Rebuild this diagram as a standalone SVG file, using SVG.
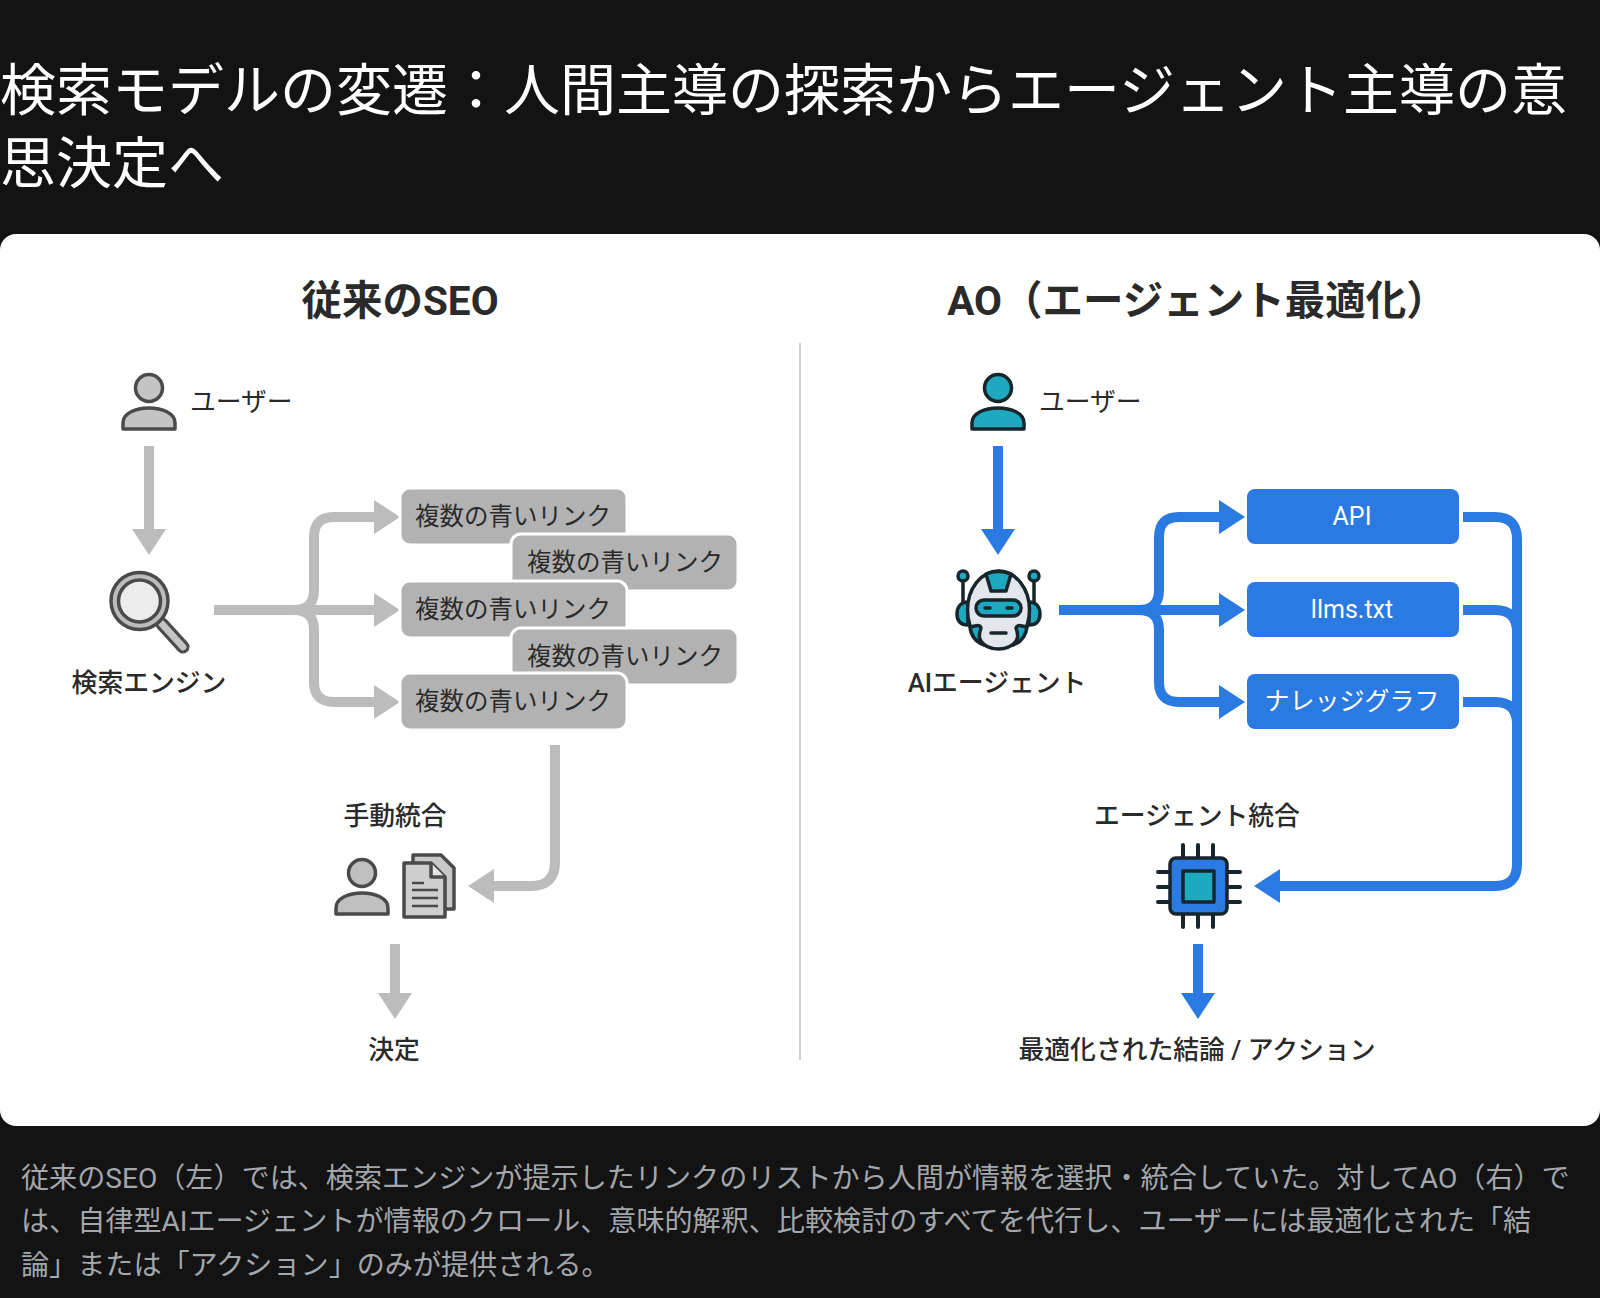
<svg xmlns="http://www.w3.org/2000/svg" width="1600" height="1298" viewBox="0 0 1600 1298">
<style>
text{font-family:Roboto,"Noto Sans CJK JP",sans-serif}
.title{font-size:56px;fill:#fff}
.cap{font-size:28.1px;fill:#a3a7ab}
.h{font-size:40.5px;font-weight:700;fill:#2a2a2a;text-anchor:middle}
.lb{font-size:25.8px;font-weight:500;fill:#2a2a2a;text-anchor:middle}
.lbn{font-size:25.8px;font-weight:400;fill:#2a2a2a}
.g{fill:#b2b2b2;stroke:#fff;stroke-width:3}
.gt{font-size:24.5px;fill:#2a2a2a;text-anchor:middle}
.b{fill:#2a7ae2}
.bt{font-size:25px;fill:#fff;text-anchor:middle}
.cg path{fill:none;stroke:#bcbcbc;stroke-width:10}
.cb path{fill:none;stroke:#2a7ae2;stroke-width:10}
.ic{stroke:#4a4a4a;stroke-width:3.5;stroke-linejoin:round}
.ib{stroke:#17252c;stroke-width:3.5;stroke-linejoin:round;stroke-linecap:round}
.t{fill:#1fa9c0}
</style>
<defs>
<marker id="ag" markerUnits="userSpaceOnUse" markerWidth="28" markerHeight="36" refX="0" refY="17" orient="auto"><path d="M0 0L26 17L0 34Z" fill="#bcbcbc"/></marker>
<marker id="ab" markerUnits="userSpaceOnUse" markerWidth="28" markerHeight="36" refX="0" refY="17" orient="auto"><path d="M0 0L26 17L0 34Z" fill="#2a7ae2"/></marker>
<g id="person"><circle cx="0" cy="-16" r="13.500"/><path d="M-26 25V19C-26 9-13 4 0 4S26 9 26 19V25Z"/></g>
</defs>
<rect width="1600" height="1298" fill="#131314"/>
<text class="title" x="0" y="110">検索モデルの変遷：人間主導の探索からエージェント主導の意</text>
<text class="title" x="0" y="183">思決定へ</text>
<rect id="panel" x="0" y="234" width="1600" height="892" rx="16" fill="#fff"/>
<text class="h" x="400" y="315">従来のSEO</text>
<text class="h" x="1197" y="315">AO（エージェント最適化）</text>
<line x1="800" y1="343" x2="800" y2="1060" stroke="#cfcfcf" stroke-width="2"/>

<g id="connectors">
<g class="cg">
<path d="M149 446V529" marker-end="url(#ag)"/>
<path d="M214 610H294Q314 610 314 590V537Q314 517 334 517H374" marker-end="url(#ag)"/>
<path d="M214 610H374" marker-end="url(#ag)"/>
<path d="M214 610H294Q314 610 314 630V682Q314 702 334 702H374" marker-end="url(#ag)"/>
<path d="M555 745V862Q555 886 531 886H494" marker-end="url(#ag)"/>
<path d="M395 944V993" marker-end="url(#ag)"/>
</g>
<g class="cb">
<path d="M998 446V529" marker-end="url(#ab)"/>
<path d="M1059 610H1139Q1159 610 1159 590V537Q1159 517 1179 517H1219" marker-end="url(#ab)"/>
<path d="M1059 610H1219" marker-end="url(#ab)"/>
<path d="M1059 610H1139Q1159 610 1159 630V682Q1159 702 1179 702H1219" marker-end="url(#ab)"/>
<path d="M1463 517H1495Q1517 517 1517 539V864Q1517 886 1495 886H1280" marker-end="url(#ab)"/>
<path d="M1463 610H1495Q1517 610 1517 632"/>
<path d="M1463 702H1495Q1517 702 1517 724"/>
<path d="M1198 944V993" marker-end="url(#ab)"/>
</g>
</g>

<g id="seo-user"><use href="#person" transform="translate(149,404)" fill="#c4c4c4" class="ic"/><text class="lbn" x="190" y="411">ユーザー</text></g>
<g id="seo-engine">
<line x1="162" y1="624" x2="183" y2="647" stroke="#4a4a4a" stroke-width="13" stroke-linecap="round"/>
<line x1="162" y1="624" x2="183" y2="647" stroke="#c4c4c4" stroke-width="7" stroke-linecap="round"/>
<circle cx="139.500" cy="601" r="28.500" fill="#bcbcbc" class="ic"/>
<circle cx="139.500" cy="601" r="21" fill="#ececec" class="ic"/>
<text class="lb" x="149" y="692">検索エンジン</text>
</g>
<g id="link-1"><rect class="g" x="400" y="488" width="227" height="57" rx="10"/><text class="gt" x="513" y="525">複数の青いリンク</text></g>
<g id="link-2"><rect class="g" x="511" y="534" width="227" height="57" rx="10"/><text class="gt" x="625" y="571">複数の青いリンク</text></g>
<g id="link-3"><rect class="g" x="400" y="581" width="227" height="57" rx="10"/><text class="gt" x="513" y="618">複数の青いリンク</text></g>
<g id="link-4"><rect class="g" x="511" y="628" width="227" height="57" rx="10"/><text class="gt" x="625" y="665">複数の青いリンク</text></g>
<g id="link-5"><rect class="g" x="400" y="673" width="227" height="57" rx="10"/><text class="gt" x="513" y="710">複数の青いリンク</text></g>
<g id="manual">
<text class="lb" x="395" y="825">手動統合</text>
<use href="#person" transform="translate(362,889)" fill="#c0c0c0" class="ic"/>
<path class="ic" fill="#c8c8c8" d="M413 855H441L454 868V909H413Z"/>
<path class="ic" fill="#cfcfcf" d="M404 863H431L445 877V917H404Z"/>
<path class="ic" fill="#e4e4e4" d="M431 863V877H445"/>
<path d="M412 883H424M412 890H438M412 898H438M412 906H438" stroke="#4a4a4a" stroke-width="2.500" fill="none"/>
</g>
<g id="decision"><text class="lb" x="394" y="1059">決定</text></g>

<g id="ao-user"><use href="#person" transform="translate(998,404)" class="ib t" style="fill:#1fa9c0"/><text class="lbn" x="1039" y="411">ユーザー</text></g>
<g id="ai-agent">
<path class="ib" fill="none" d="M963 581V604M1034 581V604"/>
<circle class="ib t" cx="963" cy="576" r="5"/><circle class="ib t" cx="1034" cy="576" r="5"/>
<path class="ib t" d="M968 602C960 602 957 608 957 614C957 620 960 625 968 625ZM1029 602C1037 602 1040 608 1040 614C1040 620 1037 625 1029 625Z"/>
<ellipse class="ib" cx="998.500" cy="610" rx="31" ry="39" fill="#e3e6ea"/>
<path class="ib t" d="M986 574Q998 569 1011 574L1006 591H991Z"/>
<path class="ib t" d="M970 627C976 626 980 624 981 628C978 636 979 640 984 645C976 642 971 636 970 627ZM1027 627C1021 626 1017 624 1016 628C1019 636 1018 640 1013 645C1021 642 1026 636 1027 627Z"/>
<rect class="ib t" x="976" y="600" width="45" height="16" rx="8"/>
<path class="ib" fill="none" d="M985 608H990M1007 608H1012M991 633H1006"/>
<text class="lb" x="997" y="692">AIエージェント</text>
</g>
<g id="api"><rect class="b" x="1247" y="489" width="212" height="55" rx="8"/><text class="bt" x="1352" y="525">API</text></g>
<g id="llms"><rect class="b" x="1247" y="582" width="212" height="55" rx="8"/><text class="bt" x="1352" y="618">llms.txt</text></g>
<g id="kg"><rect class="b" x="1247" y="674" width="212" height="55" rx="8"/><text class="bt" x="1352" y="710">ナレッジグラフ</text></g>
<g id="agent-integration">
<text class="lb" x="1197" y="825">エージェント統合</text>
<path class="ib" fill="none" d="M1183 845V858M1198 845V858M1213 845V858M1183 914V927M1198 914V927M1213 914V927M1158 872H1170M1158 887H1170M1158 902H1170M1227 872H1240M1227 887H1240M1227 902H1240" style="stroke-width:4"/>
<rect class="ib" x="1170" y="858" width="57" height="56" rx="6" fill="#2a7ae2"/>
<rect class="ib t" x="1183" y="871" width="31" height="31"/>
</g>
<g id="result"><text class="lb" x="1197" y="1059">最適化された結論 / アクション</text></g>

<text class="cap" x="21" y="1188">従来のSEO（左）では、検索エンジンが提示したリンクのリストから人間が情報を選択・統合していた。対してAO（右）で</text>
<text class="cap" x="21" y="1231">は、自律型AIエージェントが情報のクロール、意味的解釈、比較検討のすべてを代行し、ユーザーには最適化された「結</text>
<text class="cap" x="21" y="1275">論」または「アクション」のみが提供される。</text>
</svg>
